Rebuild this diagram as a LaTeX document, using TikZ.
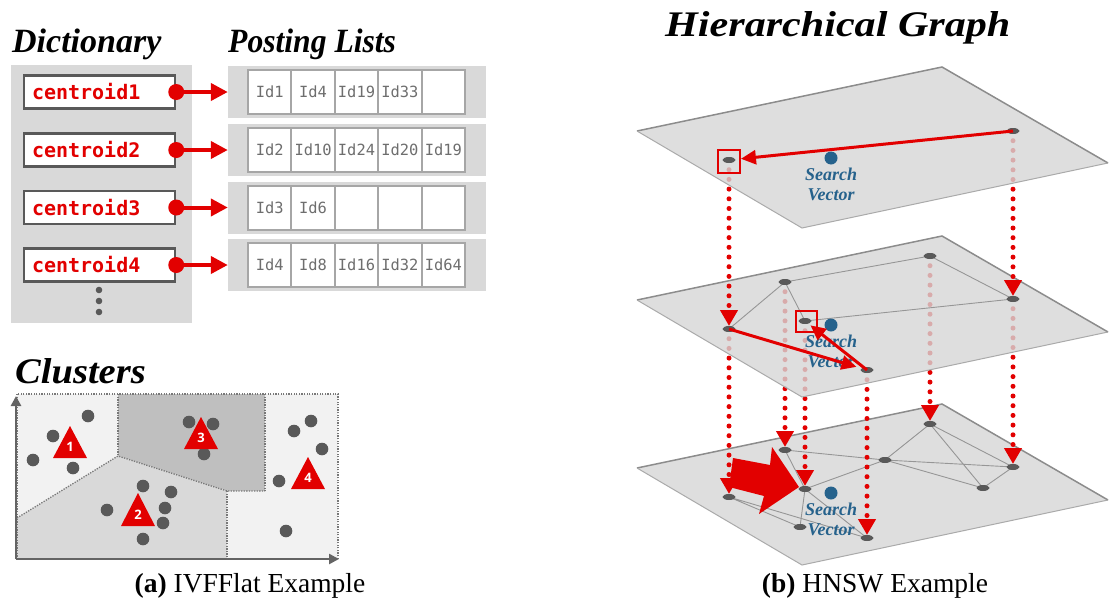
\documentclass[tikz,border=0pt]{standalone}
\usepackage{fontspec}
\setmainfont{Liberation Serif}
\newfontfamily\monof{DejaVu Sans Mono}
\newfontfamily\labf{Open Sans}
\usetikzlibrary{arrows.meta,shapes.geometric}
\definecolor{redc}{RGB}{226,0,0}
\definecolor{boxbg}{RGB}{217,217,217}
\definecolor{boxborder}{RGB}{89,89,89}
\definecolor{cellgray}{RGB}{166,166,166}
\definecolor{idgray}{RGB}{110,110,110}
\definecolor{lightr}{RGB}{242,242,242}
\definecolor{midr}{RGB}{217,217,217}
\definecolor{darkr}{RGB}{191,191,191}
\definecolor{boundc}{RGB}{120,120,120}
\definecolor{dotc}{RGB}{89,89,89}
\definecolor{axisgray}{RGB}{100,100,100}
\definecolor{bluec}{RGB}{38,98,140}
\definecolor{planefill}{RGB}{214,214,214}
\definecolor{planeback}{RGB}{140,140,140}
\definecolor{planefront}{RGB}{170,170,170}
\definecolor{edgegray}{RGB}{150,150,150}
\definecolor{nodegray}{RGB}{89,89,89}

\newcommand{\plrow}[7]{%
  \node[strip] (s#1) at (357,#2) {};
  \node[cell] (p#1a) at (269.7,#2) {#3};
  \node[cell] (p#1b) at (313.1,#2) {#4};
  \node[cell] (p#1c) at (356.5,#2) {#5};
  \node[cell] (p#1d) at (399.9,#2) {#6};
  \node[cell] (p#1e) at (443.3,#2) {#7};
}
\newcommand{\dictrow}[3]{%
  \node[cbox] (c#1) at (99.5,#2) {#3};
  \node[rdot] (d#1) at (c#1.east) {};
  \draw[ptr] (d#1) -- (s#1.west);
}
\newcommand{\plane}[2]{%
  \coordinate (#1L) at (637,131+#2);
  \coordinate (#1T) at (942,67+#2);
  \coordinate (#1R) at (1108,163+#2);
  \coordinate (#1B) at (802,228+#2);
  \fill[planefill, fill opacity=0.8] (#1L) -- (#1T) -- (#1R) -- (#1B) -- cycle;
  \draw[planeback] (#1L) -- (#1T) -- (#1R);
  \draw[planefront] (#1R) -- (#1B) -- (#1L);
}
\newcommand{\svec}[2]{%
  \node[svdot] (#1) at (831,158+#2) {};
  \node[svtext] (#1a) at (831,180+#2) {Search};
  \node[svtext] (#1b) at (831,200+#2) {Vector};
}

\begin{document}
\begin{tikzpicture}[x=1pt,y=-1pt,
  head/.style={font=\fontsize{34}{40}\selectfont\bfseries\itshape, inner sep=0pt, anchor=base west},
  capt/.style={font=\fontsize{27.5}{30}\selectfont, inner sep=0pt, anchor=base},
  strip/.style={fill=boxbg, minimum width=258pt, minimum height=52pt, inner sep=0pt},
  cell/.style={draw=cellgray, line width=2pt, fill=white, minimum width=43.4pt, minimum height=44pt, inner sep=0pt, font=\monof\fontsize{15.4}{16}\selectfont, text=idgray},
  cbox/.style={draw=boxborder, line width=2.5pt, fill=white, minimum width=151pt, minimum height=33pt, text width=135pt, align=left, inner xsep=8pt, inner ysep=0pt, font=\monof\bfseries\fontsize{20}{22}\selectfont, text=redc},
  rdot/.style={circle, fill=redc, minimum size=16pt, inner sep=0pt},
  ptr/.style={draw=redc, line width=4pt, -{Triangle[length=17pt,width=17pt]}},
  bound/.style={draw=boundc, line width=1.3pt, dash pattern=on 1.3pt off 1.3pt},
  axis/.style={draw=axisgray, line width=2.5pt, -{Triangle[length=10pt,width=10pt]}},
  cdot/.style={circle, fill=dotc, minimum size=12.6pt, inner sep=0pt},
  trilab/.style={font=\labf\bfseries\fontsize{13}{13}\selectfont, text=white, inner sep=0pt},
  planeback/.style={draw=planeback, line width=1.5pt},
  planefront/.style={draw=planefront, line width=1pt},
  gedge/.style={draw=edgegray, line width=0.9pt},
  pnode/.style={ellipse, fill=nodegray, minimum width=13pt, minimum height=6pt, inner sep=0pt},
  svdot/.style={circle, fill=bluec, minimum size=13pt, inner sep=0pt},
  svtext/.style={font=\fontsize{18}{20}\selectfont\bfseries\itshape, text=bluec, inner sep=0pt, anchor=base},
  rbox/.style={draw=redc, line width=2.5pt, inner sep=0pt},
  rarrow/.style={draw=redc, line width=3pt, -{Triangle[length=15pt,width=14pt]}},
  dotline/.style={draw=redc, line width=5pt, line cap=round, dash pattern=on 0pt off 9.7pt, -{Triangle[length=16pt,width=17pt]}, shorten >=3pt}
]
\useasboundingbox (0,0) rectangle (1113,600);

% ---------------- (a) IVFFlat ----------------
\node[head] (hdict) at (12,52) {Dictionary};
\node[head] (hpost) at (228,52) {\scalebox{0.93}[1]{Posting Lists}};
\fill[boxbg] (11,65) rectangle (192,323);
\plrow{1}{92}{Id1}{Id4}{Id19}{Id33}{}
\plrow{2}{150}{Id2}{Id10}{Id24}{Id20}{Id19}
\plrow{3}{207.5}{Id3}{Id6}{}{}{}
\plrow{4}{265}{Id4}{Id8}{Id16}{Id32}{Id64}
\dictrow{1}{92}{centroid1}
\dictrow{2}{150}{centroid2}
\dictrow{3}{207.5}{centroid3}
\dictrow{4}{265}{centroid4}
\fill[dotc] (99,290) circle (3.3);
\fill[dotc] (99,301) circle (3.3);
\fill[dotc] (99,312) circle (3.3);

\node[head, font=\fontsize{36}{40}\selectfont\bfseries\itshape] (hclu) at (15,383) {\scalebox{1.07}[1]{Clusters}};
\fill[lightr] (17,394) -- (118,394) -- (118,456) -- (17,518) -- cycle;
\fill[darkr] (118,394) -- (265,394) -- (265,491) -- (227,491) -- (118,456) -- cycle;
\fill[midr] (17,518) -- (118,456) -- (227,491) -- (227,559) -- (17,559) -- cycle;
\fill[lightr] (265,394) -- (338,394) -- (338,559) -- (227,559) -- (227,491) -- (265,491) -- cycle;
\draw[bound] (17,394) rectangle (338,559);
\draw[bound] (17,518) -- (118,456) -- (227,491) -- (265,491);
\draw[bound] (118,394) -- (118,456);
\draw[bound] (265,394) -- (265,491);
\draw[bound] (227,491) -- (227,559);
\coordinate (ao) at (16,559);
\coordinate (ay) at (16,396);
\coordinate (ax) at (339,559);
\draw[axis] (ao) -- (ay);
\draw[axis] (ao) -- (ax);
% points
\foreach \p in {(88,416),(53,436),(33,460),(73,468),
                (189,422),(213,424),(204,454),
                (143,486),(171,492),(165,508),(107,510),(163,523),(143,539),
                (311,421),(294,431),(322,449),(279,481),(286,531)}
  \node[cdot] at \p {};
% centroid triangles
\fill[redc] (70,426) -- (87,458) -- (53,458) -- cycle;
\node[trilab] (k1) at (70,447) {1};
\fill[redc] (201,417) -- (218,449) -- (184,449) -- cycle;
\node[trilab] (k3) at (201,438) {3};
\fill[redc] (138,493) -- (155,526) -- (121,526) -- cycle;
\node[trilab] (k2) at (138,515) {2};
\fill[redc] (308,457) -- (325,489) -- (291,489) -- cycle;
\node[trilab] (k4) at (308,478) {4};

\node[capt] (capa) at (250,592) {\textbf{(a)} IVFFlat Example};

% ---------------- (b) HNSW ----------------
\node[head, font=\fontsize{36}{40}\selectfont\bfseries\itshape] (hhier) at (665,36) {\scalebox{1.17}[1]{Hierarchical Graph}};

% node positions
\coordinate (tL) at (729,160);
\coordinate (tR) at (1013,131);
\coordinate (n4) at (729,329);
\coordinate (n1) at (785,282);
\coordinate (n5) at (805,321);
\coordinate (n6) at (867,370);
\coordinate (n2) at (930,256);
\coordinate (n3) at (1013,299);
\coordinate (b6) at (729,497);
\coordinate (b1) at (785,450);
\coordinate (b2) at (805,489);
\coordinate (b3) at (867,538);
\coordinate (b4) at (930,424);
\coordinate (b5) at (1013,467);
\coordinate (b7) at (885,460);
\coordinate (b8) at (983,488);
\coordinate (b9) at (800,527);

% bottom layer
\plane{P3}{337}
\draw[gedge] (b1) -- (b2) (b1) -- (b7) (b2) -- (b7) (b2) -- (b9) (b2) -- (b3)
  (b6) -- (b9) (b6) -- (b3) (b7) -- (b4) (b7) -- (b5) (b7) -- (b8)
  (b4) -- (b5) (b4) -- (b8) (b8) -- (b5);
\foreach \q in {b1,b2,b3,b4,b5,b6,b7,b8,b9}
  \node[pnode] (\q e) at (\q) {};
\svec{sv3}{335}

% layer 1 -> layer 0
\draw[dotline] (n4) -- (b6);
\draw[dotline] (n1) -- (b1);
\draw[dotline] (n5) -- (b2);
\draw[dotline] (n6) -- (b3);
\draw[dotline] (n2) -- (b4);
\draw[dotline] (n3) -- (b5);

% big arrow
\fill[redc] (733,458) -- (770,465) -- (772,447) -- (799,487) -- (759,514) -- (764,496) -- (729,487) -- cycle;

% middle layer
\plane{P2}{169}
\draw[gedge] (n4) -- (n1) (n1) -- (n2) (n2) -- (n3) (n1) -- (n5) (n5) -- (n3);
\foreach \q in {n1,n2,n3,n4,n5,n6}
  \node[pnode] (\q e) at (\q) {};
\svec{sv2}{167}
\node[rbox, minimum width=21pt, minimum height=21pt] (mbox) at (806.5,321.5) {};
\draw[rarrow, shorten >=11pt] (n4) -- (n6);
\draw[rarrow, shorten >=7pt] (n6) -- (n5);

% layer 2 -> layer 1
\draw[dotline] (tL) -- (n4);
\draw[dotline] (tR) -- (n3);

% top layer
\plane{P1}{0}
\node[pnode] (tLe) at (tL) {};
\node[pnode] (tRe) at (tR) {};
\svec{sv1}{0}
\node[rbox, minimum width=22pt, minimum height=23pt] (tbox) at (729,161.5) {};
\draw[rarrow, shorten >=12pt] (tR) -- (tL);

\node[capt] (capb) at (875,592) {\textbf{(b)} HNSW Example};
\end{tikzpicture}
\end{document}
